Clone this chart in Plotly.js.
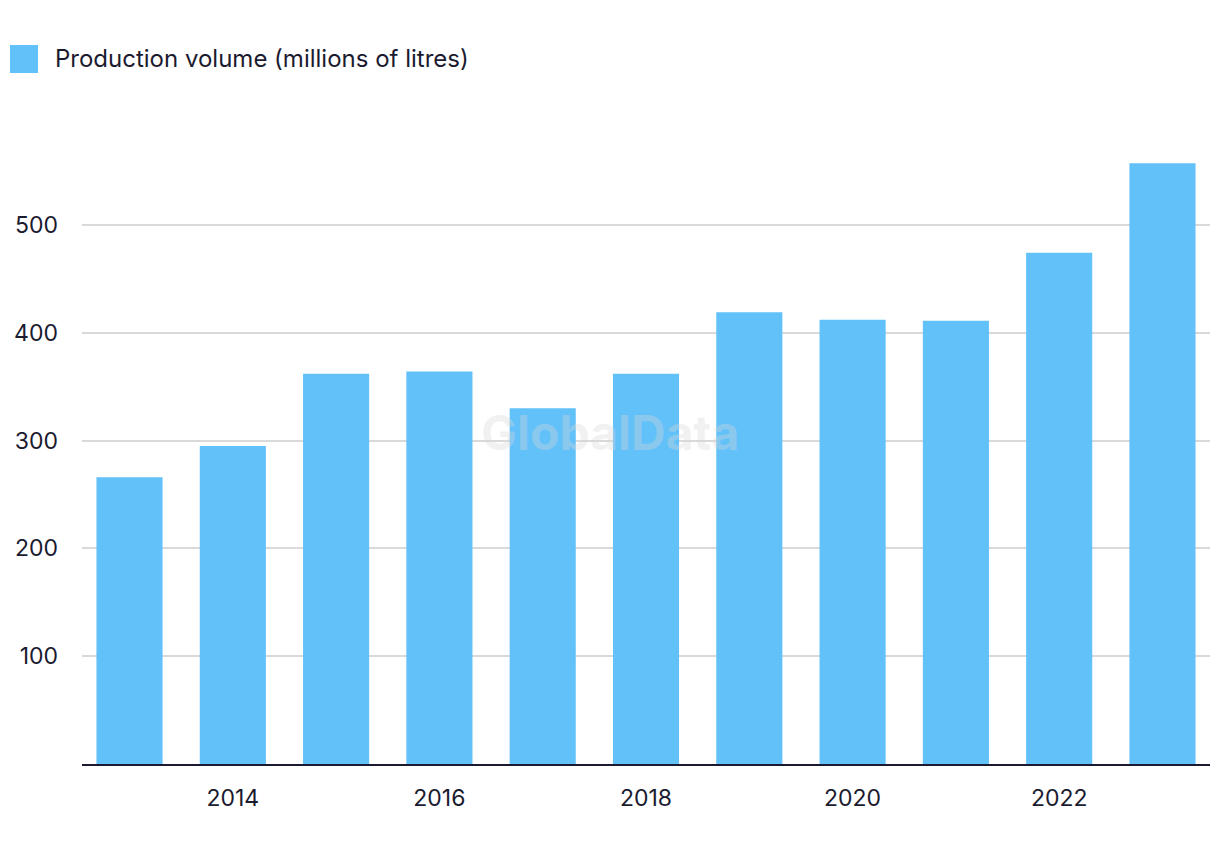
<!DOCTYPE html>
<html>
<head>
<meta charset="utf-8">
<script src="https://cdn.plot.ly/plotly-3.0.1.min.js"></script>
<style>
html,body{margin:0;padding:0;background:#fff;}
#chart{width:1220px;height:862px;}
</style>
</head>
<body>
<div id="chart"></div>
<script>
const years = [2013, 2014, 2015, 2016, 2017, 2018, 2019, 2020, 2021, 2022, 2023];
const productionVolume = [266, 295, 362, 364, 330, 362, 419, 412, 411, 474, 557];
const seriesName = "Production volume (millions of litres)";
const xTicks = [2014, 2016, 2018, 2020, 2022];
const yTicks = [100, 200, 300, 400, 500];

const barColor = "#62C1F9";
const textColor = "#1b1b2f";
const fontFamily = "Inter, 'Noto Sans', sans-serif";

const trace = {
  type: "bar",
  x: years,
  y: productionVolume,
  name: seriesName,
  marker: {color: barColor},
  width: 0.64,
  hoverinfo: "x+y",
  showlegend: false
};

const layout = {
  width: 1220,
  height: 862,
  margin: {l: 82, r: 10, t: 117, b: 98},
  paper_bgcolor: "#ffffff",
  plot_bgcolor: "#ffffff",
  font: {family: fontFamily, color: textColor, size: 23},
  xaxis: {
    range: [2012.54, 2023.46],
    tickvals: xTicks,
    ticktext: xTicks.map(String),
    showgrid: false,
    zeroline: false,
    showline: true,
    linecolor: textColor,
    linewidth: 2,
    ticks: "",
    ticklabelstandoff: 12,
    tickfont: {size: 23, color: textColor, family: fontFamily}
  },
  yaxis: {
    range: [0, 600],
    tickvals: yTicks,
    ticktext: yTicks.map(String),
    showgrid: true,
    gridcolor: "#d9d9d9",
    gridwidth: 2,
    zeroline: false,
    showline: false,
    ticks: "",
    ticklabelstandoff: 23,
    tickfont: {size: 23, color: textColor, family: fontFamily}
  },
  shapes: [
    {type: "rect", xref: "paper", yref: "paper", layer: "above",
     x0: (10 - 82) / 1128, x1: (38 - 82) / 1128,
     y0: (764 - 73) / 647, y1: (764 - 45) / 647,
     fillcolor: barColor, line: {width: 0}}
  ],
  annotations: [
    {xref: "paper", yref: "paper", x: (53 - 82) / 1128, y: (764 - 58) / 647,
     xanchor: "left", yanchor: "middle", showarrow: false,
     text: seriesName, font: {size: 24, color: textColor, family: fontFamily}},
    {xref: "paper", yref: "paper", x: (610 - 82) / 1128, y: (764 - 432) / 647,
     xanchor: "center", yanchor: "middle", showarrow: false,
     text: "<b>GlobalData</b>", font: {size: 48, color: "rgba(215,215,215,0.35)", family: fontFamily}}
  ]
};

Plotly.newPlot("chart", [trace], layout, {displayModeBar: false, staticPlot: true});
</script>
</body>
</html>
